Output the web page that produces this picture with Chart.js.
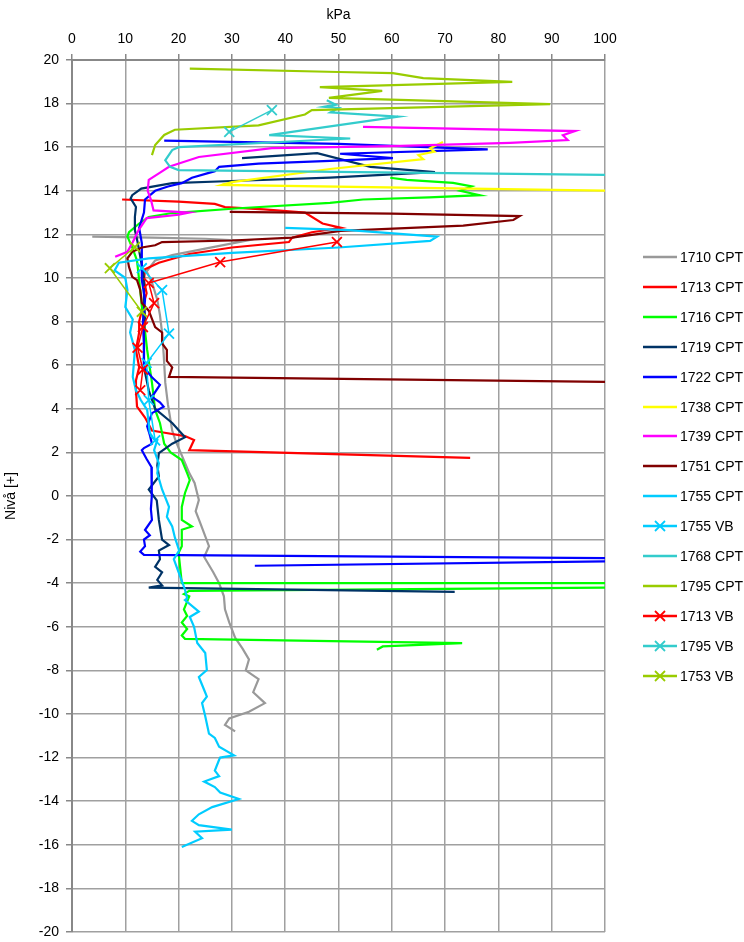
<!DOCTYPE html>
<html>
<head>
<meta charset="utf-8">
<script src="https://cdn.jsdelivr.net/npm/chart.js@4"></script>
<style>
  body { margin: 0; background: #fff; }
  #wrap { position: relative; width: 744px; height: 942px; }
  #legend { position: absolute; left: 643px; top: 242px; font: 14px 'Liberation Sans', Arial, sans-serif; color: #000; }
  .item { height: 29.93px; display: flex; align-items: center; white-space: nowrap; }
  .item svg { margin-right: 3px; }
</style>
</head>
<body>
<div id="wrap">
  <canvas id="chart" width="744" height="942"></canvas>
  <div id="legend"></div>
</div>
<script>
// [kPa, nivå] per sondering
const cpt1710 = [[3.8,11.9],[15,11.85],[25,11.8],[32.5,11.7],[25,11.35],[18.8,11.05],[15.6,10.8],[14,10.3],[15,9.8],[16,9.0],[16.5,8.3],[16.9,7.5],[17.2,6.5],[17.5,5.2],[18,4.2],[18.8,3.0],[19.5,2.5],[22,1.05],[23,0.6],[23.8,-0.18],[23.2,-0.7],[24,-1.2],[25.7,-2.3],[24.8,-2.8],[26.5,-3.5],[27.6,-4.0],[28.5,-4.6],[28.7,-5.2],[29.5,-5.8],[30.6,-6.5],[32,-7.0],[33.2,-7.5],[32.6,-8.0],[35,-8.4],[34,-9.0],[36.2,-9.5],[33.2,-9.9],[29.5,-10.2],[28.7,-10.5],[30.6,-10.8]];
const cpt1713 = [[9.4,13.6],[20,13.5],[26.8,13.4],[28.7,13.25],[36,13.15],[43.7,13.0],[47,12.5],[50.5,12.3],[45,12.1],[41.3,11.85],[40.7,11.65],[30,11.4],[22,11.1],[16.3,10.7],[13.7,10.4],[13.5,9.9],[14,9.3],[13.3,8.7],[12.6,8.0],[12.6,7.5],[12,6.7],[12.6,5.9],[12,5.3],[12,4.85],[12.2,4.1],[13.7,3.6],[15,3.0],[17.4,2.9],[21.2,2.75],[22.9,2.57],[22,2.1],[74.7,1.75]];
const cpt1716 = [[59.7,14.6],[62.8,14.5],[71.5,14.36],[75,14.2],[72.8,14.0],[76.5,13.8],[67,13.7],[54.6,13.6],[48.4,13.45],[31.3,13.2],[18.8,12.98],[14.4,12.8],[12.6,12.5],[10.7,12.1],[10.4,11.9],[11.3,11.4],[12.2,10.8],[12.8,9.45],[13.1,8.7],[13.5,8.0],[14.1,6.7],[15,5.2],[15.6,3.95],[16.5,3.35],[17.3,2.4],[18.5,2.0],[20.6,1.65],[21.6,1.05],[22.1,0.73],[21.2,0.14],[20.6,-0.5],[20.6,-1.1],[22.5,-1.4],[20.6,-1.55],[20.6,-2.3],[20,-2.6],[20.3,-3.3],[20.6,-4.0],[110,-4.0],[110,-4.18],[22,-4.35],[21,-4.5],[22,-4.6],[21,-5.2],[21.6,-5.5],[20.6,-5.8],[21.6,-6.1],[20.6,-6.4],[21.2,-6.55],[73.2,-6.75],[58.3,-6.9],[57.2,-7.05]];
const cpt1719 = [[31.9,15.5],[46,15.73],[56,15.1],[68.1,14.86],[48.4,14.6],[30,14.45],[18.8,14.35],[13,14.1],[11.3,13.8],[11,13.65],[12,13.26],[11.8,12.8],[11.8,12.2],[12.3,11.65],[12.8,11.0],[13.5,10.0],[13.5,9.0],[13.7,8.2],[13.5,7.5],[13.5,5.9],[14.4,4.85],[15.6,4.0],[18.8,3.35],[21.2,2.7],[18.8,2.4],[16.3,1.97],[16,1.4],[16.3,0.9],[14.4,0.3],[15.9,-0.2],[16.3,-1.1],[16.9,-2.0],[18.2,-2.25],[16.3,-2.5],[16.5,-2.9],[15.6,-3.25],[16.9,-3.5],[16,-3.85],[16.9,-4.1],[14.4,-4.2],[71.8,-4.4]];
const cpt1722 = [[17.3,16.3],[50,16.15],[78,15.9],[50.3,15.7],[60.2,15.5],[48.4,15.37],[35,15.25],[27.6,15.1],[26.8,14.9],[22.5,14.6],[20.6,14.35],[18,14.2],[15.6,14.0],[13.7,13.6],[13.5,13.0],[12.6,12.3],[13.1,11.6],[13.1,10.8],[13.1,9.9],[13.7,9.0],[13.3,8.0],[13.5,7.0],[13.5,5.9],[15,5.45],[16.5,5.1],[15,4.55],[16.5,4.3],[17.2,4.1],[15,3.8],[14.1,3.2],[14.6,2.8],[15,2.4],[13.5,2.2],[13.1,2.1],[14,1.7],[14.9,1.33],[15,1.05],[14.9,0.4],[15,-0.03],[14.8,-0.6],[15,-1.1],[13.7,-1.56],[14.6,-1.8],[13.5,-2.0],[13.7,-2.3],[12.8,-2.55],[13.5,-2.7],[110,-2.87],[110,-2.97],[34.3,-3.2]];
const cpt1738 = [[69.6,16.24],[67.2,15.95],[68,15.8],[65,15.64],[65.9,15.45],[48.4,15.0],[30,14.4],[28.1,14.27],[101,14.0]];
const cpt1739 = [[54.6,16.93],[94.4,16.74],[92.1,16.55],[93,16.33],[82.2,16.2],[60,16.05],[37.5,15.96],[23.8,15.55],[18.2,15.1],[16.3,14.8],[14.4,14.5],[14.2,14.0],[14.8,13.6],[15.3,13.1],[22,13.0],[20,12.9],[14,12.75],[12.5,12.2],[11.3,11.6],[10.4,11.2],[8.1,10.97]];
const cpt1751 = [[29.6,13.03],[60,12.95],[84,12.84],[82.8,12.66],[73.4,12.4],[50.4,12.16],[41.3,11.85],[30,11.72],[16.9,11.65],[15.6,11.5],[13.1,11.4],[11.3,11.2],[10.4,10.9],[10.7,10.5],[11.3,10.05],[12.2,9.9],[12.8,9.45],[13.1,8.85],[14.4,8.5],[15.6,7.75],[16.9,7.5],[16.9,7.0],[17.8,6.7],[17.8,6.2],[18.8,5.9],[18.2,5.46],[101,5.23]];
const cpt1755 = [[40,12.3],[52,12.2],[68.5,11.9],[67.2,11.7],[50,11.4],[30,11.15],[14.4,10.9],[8.8,10.7],[8,10.35],[10,10.0],[10.4,9.45],[10,8.67],[11.4,8.1],[10.9,7.5],[11.8,6.7],[11.4,5.46],[12,4.85],[12.9,4.4],[14.1,3.95],[14.6,2.9],[15.4,2.6],[16,2.57],[15.4,2.1],[16.3,1.5],[16,1.05],[16.9,0.3],[18.2,-0.5],[17.8,-0.95],[18.8,-1.4],[19.3,-1.9],[20.1,-2.5],[19.1,-2.9],[19.7,-3.3],[20.3,-3.7],[21.2,-4.3],[21.6,-4.7],[21.2,-4.77],[23.8,-5.3],[22.1,-5.55],[22.9,-6.0],[23.5,-6.74],[25,-7.2],[25.3,-7.98],[23.8,-8.3],[24.8,-8.9],[25.3,-9.2],[24.4,-9.5],[25,-10.1],[25.7,-10.9],[26.8,-11.1],[27.6,-11.5],[30.4,-11.9],[27.8,-12.0],[27.6,-12.1],[26.8,-12.6],[27.6,-12.85],[24.8,-13.1],[26.8,-13.35],[27.8,-13.6],[31.3,-13.9],[26.3,-14.27],[23.8,-14.6],[22.5,-14.9],[23.8,-15.1],[30,-15.3],[23.1,-15.4],[24.4,-15.7],[20.6,-16.1]];
const vb1755 = [[13.1,10.45],[16.9,9.45],[18.2,7.45],[14,6.1],[14.4,4.4],[15.6,2.55]];
const cpt1768 = [[47.8,18.15],[49.5,17.95],[47.3,17.85],[50,17.8],[48.5,17.6],[61.2,17.4],[37,16.55],[52.2,16.4],[20,16.0],[18.8,15.87],[17.5,15.4],[18.4,15.1],[20,14.95],[101,14.73]];
const cpt1795 = [[22.1,19.6],[50,19.45],[60.2,19.4],[65.9,19.17],[82.6,19.0],[46.5,18.76],[58.2,18.58],[48.2,18.26],[89.7,17.98],[45,17.7],[43.7,17.5],[35,17.0],[19.3,16.8],[17.3,16.56],[15.6,16.1],[15,15.64]];
const vb1713 = [[49.7,11.65],[27.8,10.73],[14.4,9.77],[15.4,8.85],[13.3,7.75],[12.3,6.8],[13.3,5.8],[12.8,4.85]];
const vb1795 = [[37.5,17.7],[29.5,16.7]];
const vb1753 = [[11.8,11.42],[7.1,10.45],[13.1,8.45]];

const seriesNames = ['1710 CPT','1713 CPT','1716 CPT','1719 CPT','1722 CPT','1738 CPT','1739 CPT','1751 CPT','1755 CPT','1755 VB','1768 CPT','1795 CPT','1713 VB','1795 VB','1753 VB'];
const seriesData = [cpt1710, cpt1713, cpt1716, cpt1719, cpt1722, cpt1738, cpt1739, cpt1751, cpt1755, vb1755, cpt1768, cpt1795, vb1713, vb1795, vb1753];
const seriesColors = ['#999999','#ff0000','#00ff00','#003366','#0000ff','#ffff00','#ff00ff','#800000','#00ccff','#00ccff','#33cccc','#99cc00','#ff0000','#33cccc','#99cc00'];

const font = { family: "'Liberation Sans', Arial, sans-serif", size: 14 };

const datasets = seriesNames.map((name, i) => {
    const isVB = name.endsWith('VB');
    return {
        label: name,
        data: seriesData[i].map(p => ({ x: p[0], y: p[1] })),
        showLine: true,
        borderColor: seriesColors[i],
        backgroundColor: seriesColors[i],
        borderWidth: isVB ? 1.5 : 2.2,
        pointStyle: 'crossRot',
        pointRadius: isVB ? 7 : 0,
        pointBorderWidth: 1.8,
        pointHoverRadius: 0,
        tension: 0,
        order: seriesNames.length - i
    };
});

let chart = new Chart(document.getElementById('chart').getContext('2d'), {
    type: 'scatter',
    data: { datasets: datasets },
    options: {
        responsive: false,
        animation: false,
        layout: { padding: { left: 0, top: 0, right: 139, bottom: 10 } },
        plugins: { legend: { display: false }, tooltip: { enabled: false } },
        scales: {
            x: {
                type: 'linear',
                position: 'top',
                min: 0, max: 100,
                ticks: { stepSize: 10, padding: 6, color: '#000', font: font, maxRotation: 0 },
                grid: { color: '#a0a0a0', lineWidth: 1.5, tickLength: 6, tickColor: '#888' },
                border: { color: '#888', width: 2 },
                title: { display: true, text: 'kPa', color: '#000', font: font, padding: { top: 7, bottom: 0 } },
                afterFit: s => { s.height = 60; }
            },
            y: {
                min: -20, max: 20,
                ticks: { stepSize: 2, padding: 7, color: '#000', font: font },
                grid: { color: '#a0a0a0', lineWidth: 1.5, tickLength: 6, tickColor: '#888' },
                border: { color: '#888', width: 2 },
                title: { display: true, text: 'Nivå [+]', color: '#000', font: font, padding: { top: 3, bottom: 0 } },
                afterFit: s => { s.width = 72; s.paddingBottom = 0; s.paddingTop = 0; }
            }
        }
    }
});

// legend to the right, built from the chart's datasets
const legendBox = document.getElementById('legend');
chart.data.datasets.forEach(ds => {
    const c = ds.borderColor;
    let svg = '<svg width="34" height="14"><line x1="0" y1="7" x2="34" y2="7" stroke="' + c + '" stroke-width="2.5"/>';
    if (ds.pointRadius > 0) {
        svg += '<line x1="12" y1="2" x2="22" y2="12" stroke="' + c + '" stroke-width="1.8"/>' +
               '<line x1="12" y1="12" x2="22" y2="2" stroke="' + c + '" stroke-width="1.8"/>';
    }
    svg += '</svg>';
    const row = document.createElement('div');
    row.className = 'item';
    row.innerHTML = svg + '<span>' + ds.label + '</span>';
    legendBox.appendChild(row);
});
</script>
</body>
</html>
